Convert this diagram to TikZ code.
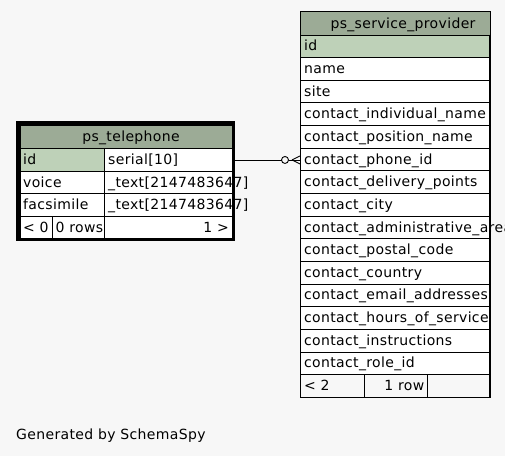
\documentclass[tikz,border=0pt]{standalone}
\usepackage{fontspec}
\setmainfont{DejaVu Sans}
\newfontfamily\tblfont[LetterSpace=2.5]{DejaVu Sans}
\definecolor{bg}{HTML}{F7F7F7}
\definecolor{headc}{HTML}{9CAB96}
\definecolor{pkc}{HTML}{BED1B8}
\begin{document}
\begin{tikzpicture}[x=1pt,y=-1pt,
  cell/.style={draw=black,line width=0.9pt,rectangle,inner sep=0pt,anchor=north west},
  txt/.style={anchor=base west,inner sep=0pt,font=\tblfont\fontsize{14}{15}\selectfont},
  conn/.style={draw=black,line width=0.9pt}]
\fill[bg] (0,0) rectangle (505,456);
\useasboundingbox (0,0) rectangle (505,456);
\clip (0,0) rectangle (505,456);
% ---------- ps_service_provider ----------
\node[cell,fill=headc,minimum width=189.5pt,minimum height=23.5pt] (sphead) at (300,11) {};
\node[txt,anchor=base] (sptitle) at (403,28) {ps\_service\_provider};
\foreach \i/\f in {0/id,1/name,2/site,3/contact\_individual\_name,4/contact\_position\_name,
  5/contact\_phone\_id,6/contact\_delivery\_points,7/contact\_city,8/contact\_administrative\_area,
  9/contact\_postal\_code,10/contact\_country,11/contact\_email\_addresses,12/contact\_hours\_of\_service,
  13/contact\_instructions,14/contact\_role\_id}{
  \pgfmathsetmacro\yy{34.5+22.65*\i}
  \ifnum\i=0
    \node[cell,fill=pkc,minimum width=189.5pt,minimum height=22.65pt] (sp\i) at (300,\yy) {};
  \else
    \node[cell,fill=white,minimum width=189.5pt,minimum height=22.65pt] (sp\i) at (300,\yy) {};
  \fi
  \node[txt] (spt\i) at (304,\yy+16.3) {\f};
}
\node[cell,fill=bg,minimum width=64pt,minimum height=22.65pt] (spf1) at (300,374.25) {};
\node[cell,fill=bg,minimum width=63pt,minimum height=22.65pt] (spf2) at (364,374.25) {};
\node[cell,fill=bg,minimum width=62.5pt,minimum height=22.65pt] (spf3) at (427,374.25) {};
\node[txt] (spft1) at (304,390.3) {< 2};
\node[txt,anchor=base east] (spft2) at (424.5,390.3) {1 row};
% redraw right border over overflowing text
\draw[line width=0.9pt] (489.5,34.5) -- (489.5,396.9);
% ---------- ps_telephone ----------
\node[cell,fill=headc,minimum width=211.7pt,minimum height=23.3pt] (thead) at (20,125) {};
\node[txt,anchor=base] (ttitle) at (131,141.5) {ps\_telephone};
\node[cell,fill=pkc,minimum width=84.3pt,minimum height=22.4pt] (tid) at (20,148.3) {};
\node[cell,fill=white,minimum width=127.4pt,minimum height=22.4pt] (tidt) at (104.3,148.3) {};
\node[cell,fill=white,minimum width=84.3pt,minimum height=22.6pt] (tvoice) at (20,170.7) {};
\node[cell,fill=white,minimum width=127.4pt,minimum height=22.6pt] (tvoicet) at (104.3,170.7) {};
\node[cell,fill=white,minimum width=84.3pt,minimum height=22.7pt] (tfax) at (20,193.3) {};
\node[cell,fill=white,minimum width=127.4pt,minimum height=22.7pt] (tfaxt) at (104.3,193.3) {};
\node[cell,fill=white,minimum width=32.3pt,minimum height=22.3pt] (tf1) at (20,216) {};
\node[cell,fill=white,minimum width=52pt,minimum height=22.3pt] (tf2) at (52.3,216) {};
\node[cell,fill=white,minimum width=127.4pt,minimum height=22.3pt] (tf3) at (104.3,216) {};
\node[txt] (ta1) at (23,164.6) {id};
\node[txt] (ta2) at (108,164.6) {serial[10]};
\node[txt] (tb1) at (23,187.1) {voice};
\node[txt] (tb2) at (108,187.1) {\_text[2147483647]};
\node[txt] (tc1) at (23,209.8) {facsimile};
\node[txt] (tc2) at (108,209.8) {\_text[2147483647]};
\node[txt] (td1) at (23,232.4) {< 0};
\node[txt] (td2) at (55.5,232.4) {0 rows};
\node[txt,anchor=base east] (td3) at (229,232.4) {1 >};
\draw[line width=3.6pt] (18,123) rectangle (233.3,239.3);
% ---------- connector ----------
\coordinate (cend) at (tidt.east -| sp5.west);
\draw[conn] (tidt.east) -- ([xshift=-18.5pt]cend);
\draw[conn] ([xshift=-15pt]cend) circle (3.5pt);
\draw[conn] ([xshift=-11.5pt]cend) -- (cend);
\draw[conn] ([xshift=-8pt]cend) -- ([yshift=4pt]cend);
\draw[conn] ([xshift=-8pt]cend) -- ([yshift=-4pt]cend);
% ---------- footer text ----------
\node[txt] (gen) at (16,439.5) {Generated by SchemaSpy};
\end{tikzpicture}
\end{document}
